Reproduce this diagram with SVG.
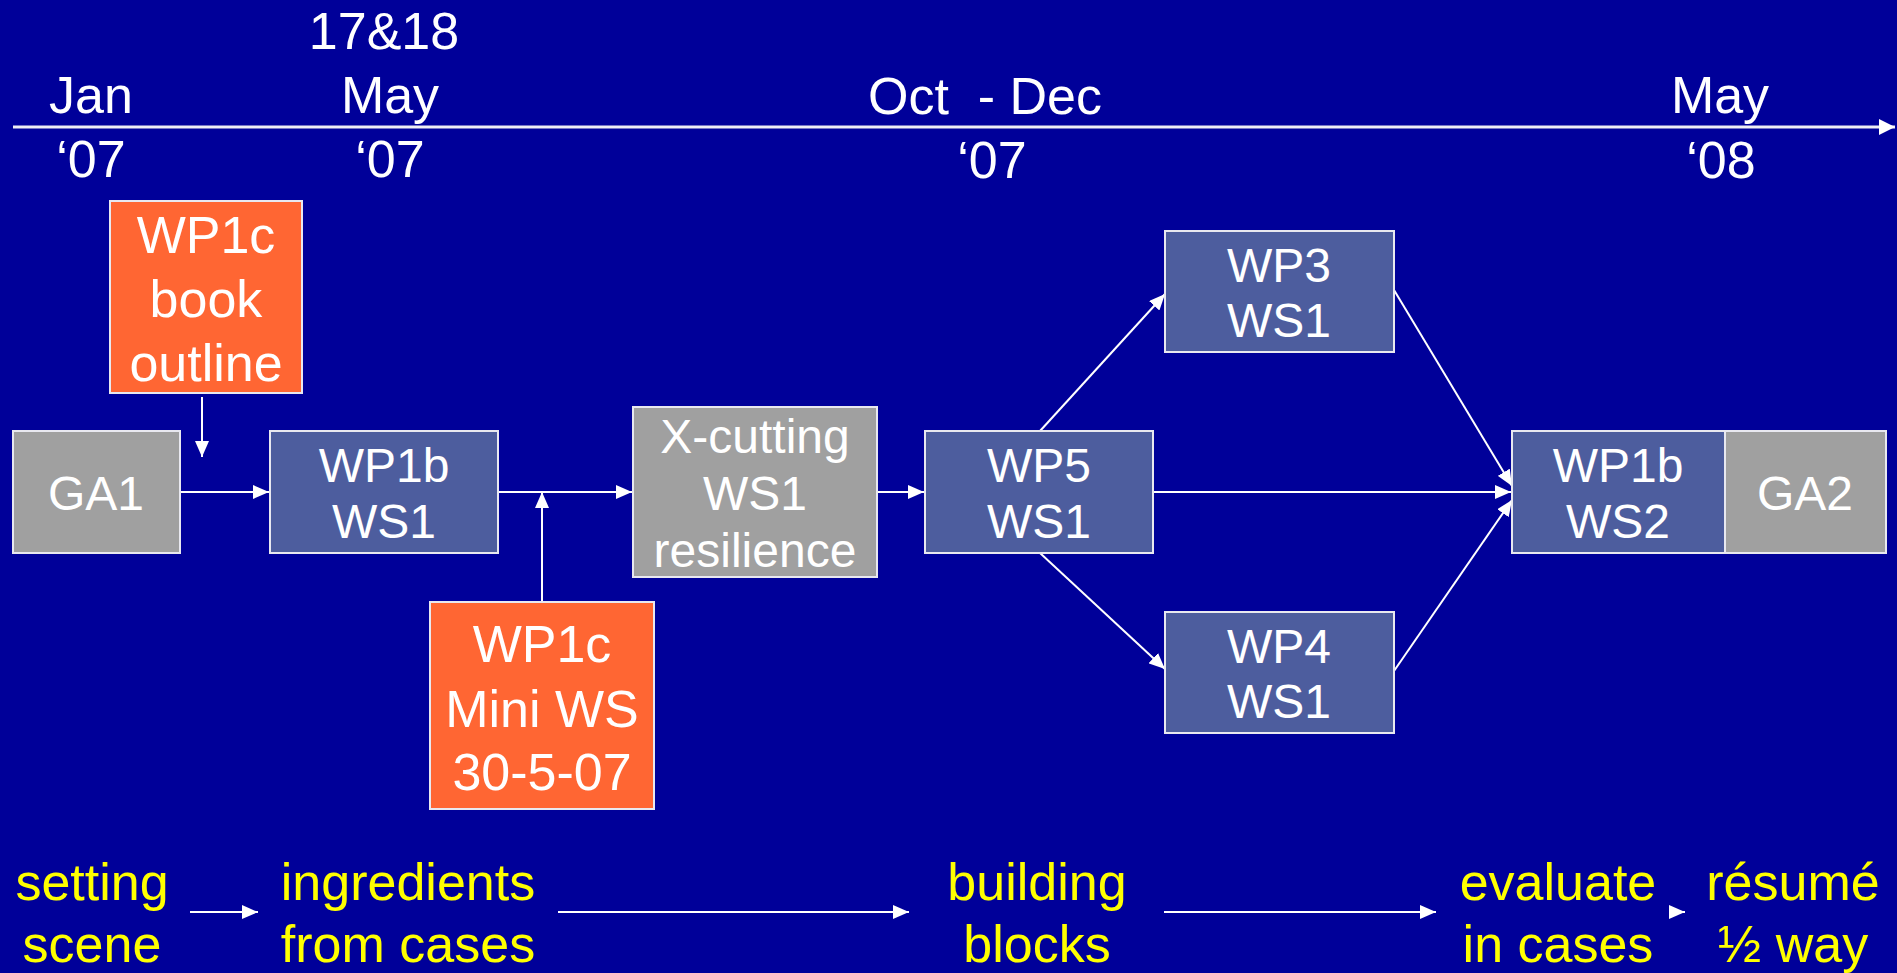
<svg xmlns="http://www.w3.org/2000/svg" width="1897" height="973" viewBox="0 0 1897 973">
<style>
text{font-family:"Liberation Sans",Arial,sans-serif;text-anchor:middle}
.tl{fill:#fff;font-size:52px}
.bx{stroke:#E8E8F0;stroke-width:2}
.blue{fill:#4D5D9E}
.gray{fill:#A0A0A0}
.orange{fill:#FF6633}
.nt{fill:#fff;font-size:48px}
.ot{fill:#fff;font-size:52px}
.yl{fill:#FFFF00;font-size:52px}
.cn{stroke:#fff;stroke-width:2;fill:none;marker-end:url(#ah)}
</style>
<defs>
<marker id="ah" viewBox="0 0 16 14" refX="16" refY="7" markerWidth="16" markerHeight="14" markerUnits="userSpaceOnUse" orient="auto">
<path d="M0,0 L16,7 L0,14 z" fill="#fff"/>
</marker>
<marker id="ahT" viewBox="0 0 16 16" refX="16" refY="8" markerWidth="16" markerHeight="16" markerUnits="userSpaceOnUse" orient="auto">
<path d="M0,0 L16,8 L0,16 z" fill="#fff"/>
</marker>
</defs>
<rect width="1897" height="973" fill="#000099"/>

<g id="timeline">
<line x1="13" y1="127" x2="1895" y2="127" stroke="#EEEEF4" stroke-width="3" marker-end="url(#ahT)"/>
<text class="tl" x="91" y="113">Jan</text>
<text class="tl" x="91" y="177">‘07</text>
<text class="tl" x="384" y="49">17&amp;18</text>
<text class="tl" x="390" y="113">May</text>
<text class="tl" x="390" y="177">‘07</text>
<text class="tl" x="868" y="114" xml:space="preserve" style="text-anchor:start">Oct  - Dec</text>
<text class="tl" x="992" y="178">‘07</text>
<text class="tl" x="1720" y="113">May</text>
<text class="tl" x="1721" y="178">‘08</text>
</g>

<g id="connectors">
<line class="cn" x1="202" y1="397" x2="202" y2="457"/>
<line class="cn" x1="181" y1="492" x2="269" y2="492"/>
<line class="cn" x1="498" y1="492" x2="632" y2="492"/>
<line class="cn" x1="542" y1="602" x2="542" y2="492"/>
<line class="cn" x1="877" y1="492" x2="924" y2="492"/>
<line class="cn" x1="1040" y1="431" x2="1165" y2="294"/>
<line class="cn" x1="1040" y1="553" x2="1165" y2="669"/>
<line class="cn" x1="1153" y1="492" x2="1511" y2="492"/>
<line class="cn" x1="1394" y1="290" x2="1512" y2="486"/>
<line class="cn" x1="1394" y1="671" x2="1512" y2="500"/>
<line class="cn" x1="190" y1="912" x2="258" y2="912"/>
<line class="cn" x1="558" y1="912" x2="909" y2="912"/>
<line class="cn" x1="1164" y1="912" x2="1436" y2="912"/>
<line class="cn" x1="1683" y1="912" x2="1685" y2="912"/>
</g>

<g id="book-outline">
<rect class="bx orange" x="110" y="201" width="192" height="192"/>
<text class="ot" x="206" y="253">WP1c</text>
<text class="ot" x="206" y="317">book</text>
<text class="ot" x="206" y="381">outline</text>
</g>
<g id="ga1">
<rect class="bx gray" x="13" y="431" width="167" height="122"/>
<text class="nt" x="96" y="510">GA1</text>
</g>
<g id="wp1b-ws1">
<rect class="bx blue" x="270" y="431" width="228" height="122"/>
<text class="nt" x="384" y="482">WP1b</text>
<text class="nt" x="384" y="538">WS1</text>
</g>
<g id="xcutting">
<rect class="bx gray" x="633" y="407" width="244" height="170"/>
<text class="nt" x="755" y="453">X-cutting</text>
<text class="nt" x="755" y="510">WS1</text>
<text class="nt" x="755" y="567">resilience</text>
</g>
<g id="mini-ws">
<rect class="bx orange" x="430" y="602" width="224" height="207"/>
<text class="ot" x="542" y="662">WP1c</text>
<text class="ot" x="542" y="727">Mini WS</text>
<text class="ot" x="542" y="790">30-5-07</text>
</g>
<g id="wp5-ws1">
<rect class="bx blue" x="925" y="431" width="228" height="122"/>
<text class="nt" x="1039" y="482">WP5</text>
<text class="nt" x="1039" y="538">WS1</text>
</g>
<g id="wp3-ws1">
<rect class="bx blue" x="1165" y="231" width="229" height="121"/>
<text class="nt" x="1279" y="282">WP3</text>
<text class="nt" x="1279" y="337">WS1</text>
</g>
<g id="wp4-ws1">
<rect class="bx blue" x="1165" y="612" width="229" height="121"/>
<text class="nt" x="1279" y="663">WP4</text>
<text class="nt" x="1279" y="718">WS1</text>
</g>
<g id="wp1b-ws2">
<rect class="bx blue" x="1512" y="431" width="213" height="122"/>
<text class="nt" x="1618" y="482">WP1b</text>
<text class="nt" x="1618" y="538">WS2</text>
</g>
<g id="ga2">
<rect class="bx gray" x="1725" y="431" width="161" height="122"/>
<text class="nt" x="1805" y="510">GA2</text>
</g>

<g id="phases">
<text class="yl" x="92" y="900">setting</text>
<text class="yl" x="92" y="962">scene</text>
<text class="yl" x="408" y="900">ingredients</text>
<text class="yl" x="408" y="962">from cases</text>
<text class="yl" x="1037" y="900">building</text>
<text class="yl" x="1037" y="962">blocks</text>
<text class="yl" x="1558" y="900">evaluate</text>
<text class="yl" x="1558" y="962">in cases</text>
<text class="yl" x="1793" y="900">résumé</text>
<text class="yl" x="1793" y="962">½ way</text>
</g>
</svg>
